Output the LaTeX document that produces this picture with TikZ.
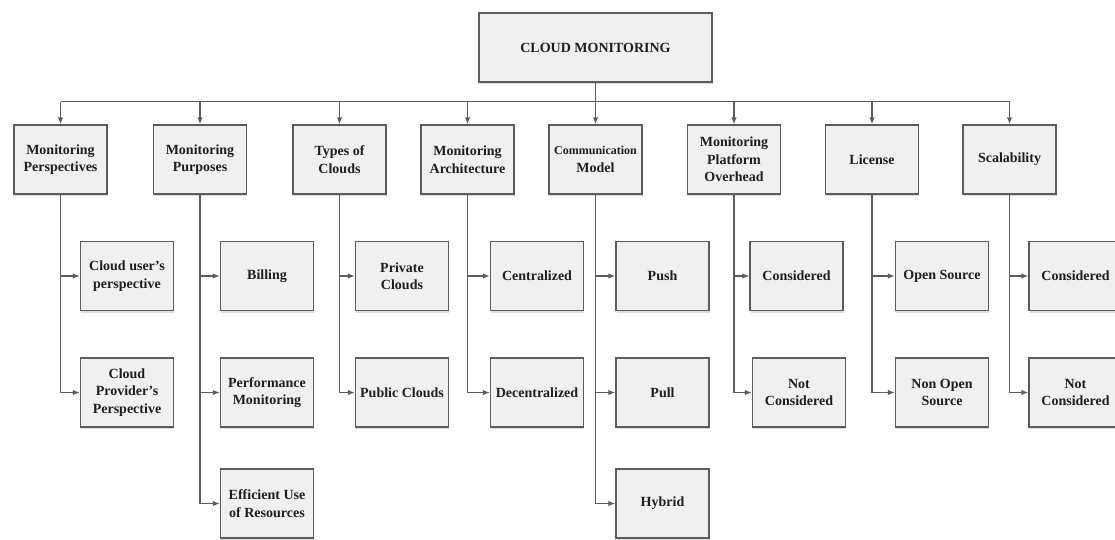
\documentclass[tikz,border=0pt]{standalone}
\usepackage{fontspec}
\setmainfont{Liberation Serif}
\usetikzlibrary{arrows.meta,shadows}
\definecolor{linecol}{RGB}{92,92,92}
\definecolor{boxfill}{RGB}{240,240,240}
\definecolor{txtcol}{RGB}{30,30,30}
\begin{document}
\begin{tikzpicture}[x=1pt,y=-1pt,
  box/.style={draw=linecol, fill=boxfill, line width=1.2pt, minimum width=93pt, minimum height=69pt,
    inner sep=1pt, align=center, text=txtcol, font=\fontsize{14}{17.5}\selectfont\bfseries,
    drop shadow={shadow xshift=0.6pt, shadow yshift=-2pt, opacity=0.22, fill=black!60}},
  rootbox/.style={box, minimum width=233pt},
  link/.style={draw=linecol, line width=1.6pt},
  arr/.style={link, -{Latex[length=7pt,width=5.5pt]}},
]
\useasboundingbox (0,0) rectangle (1115,539);

\node[rootbox] (root) at (595.5,47.5) {CLOUD MONITORING};

\node[box] (persp) at (60.5,159.5) {Monitoring\\Perspectives};
\node[box] (purp)  at (200,159.5)  {Monitoring\\Purposes};
\node[box] (types) at (339.5,159.5) {Types of\\Clouds};
\node[box] (arch)  at (467.5,159.5) {Monitoring\\Architecture};
\node[box] (comm)  at (595.5,159.5) {{\fontsize{12}{15}\selectfont Communication}\\Model};
\node[box] (over)  at (734,159.5)  {Monitoring\\Platform\\Overhead};
\node[box] (lic)   at (872,159.5)  {License};
\node[box] (scal)  at (1009.5,159.5) {Scalability};

\coordinate (bus) at (0,101.5);
\draw[link] (persp.north |- bus) -- (scal.north |- bus);
\foreach \n in {persp,purp,types,arch,over,lic,scal}
  \draw[arr] (\n.north |- bus) -- (\n.north);
\draw[arr] (root.south) -- (comm.north);

\node[box] (persp1) at (127,276)   {Cloud user’s\\perspective};
\node[box] (persp2) at (127,392.5) {Cloud\\Provider’s\\Perspective};
\node[box] (purp1)  at (267,276)   {Billing};
\node[box] (purp2)  at (267,392.5) {Performance\\Monitoring};
\node[box] (purp3)  at (267,503.5) {Efficient Use\\of Resources};
\node[box] (types1) at (402,276)   {Private\\Clouds};
\node[box] (types2) at (402,392.5) {Public Clouds};
\node[box] (arch1)  at (537,276)   {Centralized};
\node[box] (arch2)  at (537,392.5) {Decentralized};
\node[box] (comm1)  at (662.5,276)   {Push};
\node[box] (comm2)  at (662.5,392.5) {Pull};
\node[box] (comm3)  at (662.5,503.5) {Hybrid};
\node[box] (over1)  at (796.5,276)   {Considered};
\node[box] (over2)  at (799,392.5)   {Not\\Considered};
\node[box] (lic1)   at (942,276)     {Open Source};
\node[box] (lic2)   at (942,392.5)   {Non Open\\Source};
\node[box] (scal1)  at (1075.5,276)  {Considered};
\node[box] (scal2)  at (1075.5,392.5) {Not\\Considered};

\foreach \p/\c in {persp/persp1,persp/persp2,purp/purp1,purp/purp2,purp/purp3,
  types/types1,types/types2,arch/arch1,arch/arch2,comm/comm1,comm/comm2,comm/comm3,
  over/over1,over/over2,lic/lic1,lic/lic2,scal/scal1,scal/scal2}
  \draw[arr] (\p.south) |- (\c.west);
\end{tikzpicture}
\end{document}
